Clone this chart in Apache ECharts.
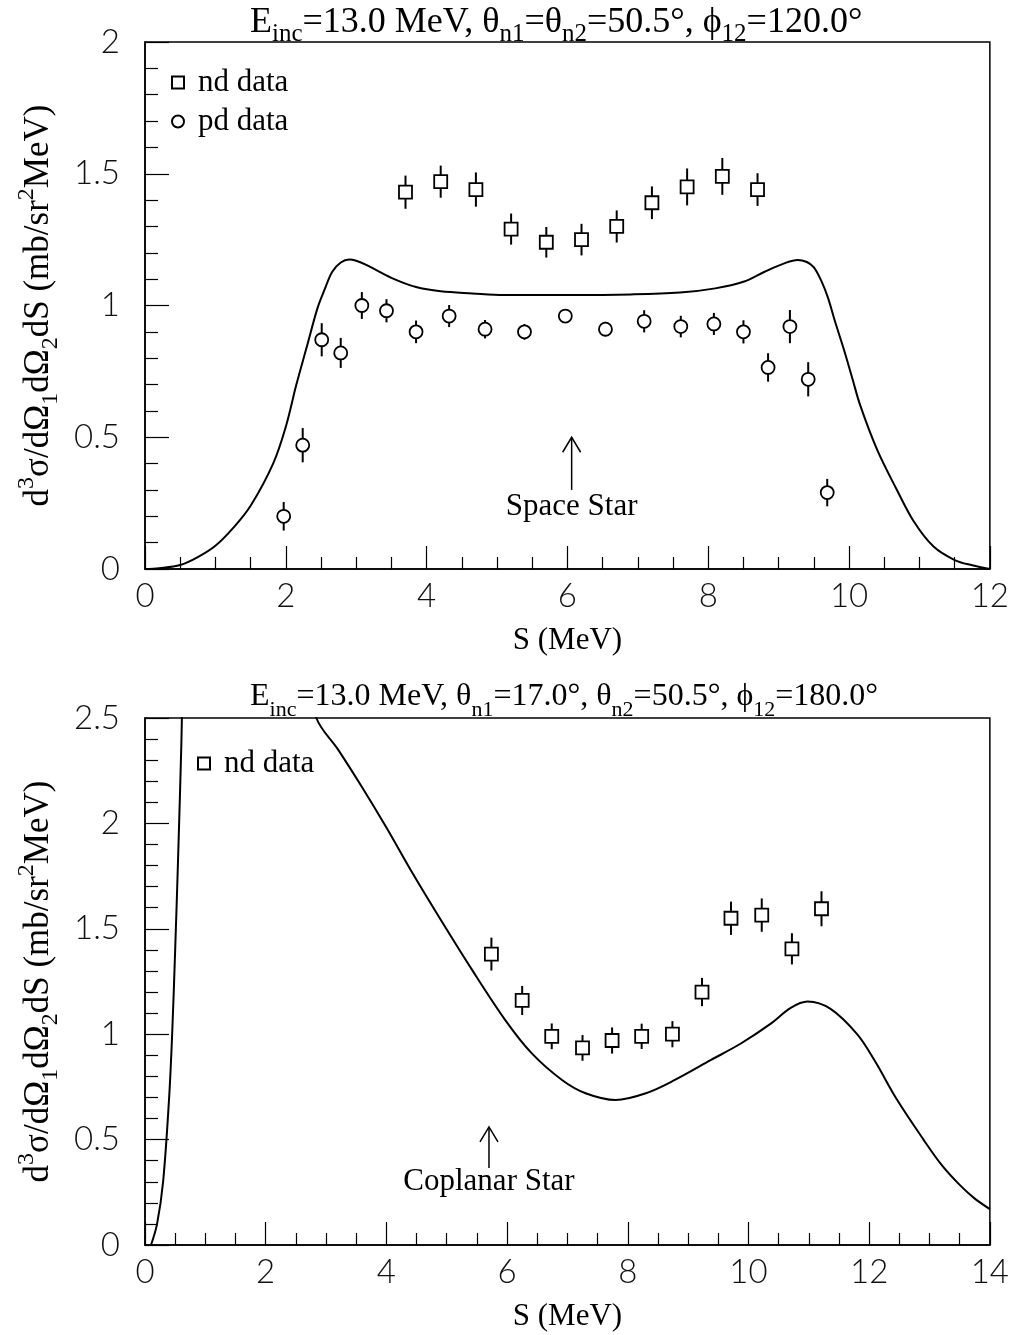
<!DOCTYPE html>
<html><head><meta charset="utf-8">
<script src="https://cdn.jsdelivr.net/npm/echarts@6/dist/echarts.min.js"></script>
<style>html,body{margin:0;padding:0;background:#fff}#c{width:1012px;height:1335px}</style>
</head><body><div id="c"></div><script>
// ---------- Top panel data ----------
const topNdX   = [3.7, 4.2, 4.7, 5.2, 5.7, 6.2, 6.7, 7.2, 7.7, 8.2, 8.7];
const topNdY   = [1.43, 1.47, 1.44, 1.29, 1.24, 1.25, 1.30, 1.39, 1.45, 1.49, 1.44];
const topNdErr = [0.063, 0.061, 0.065, 0.059, 0.058, 0.060, 0.061, 0.062, 0.070, 0.070, 0.062];

const topPdX   = [1.97, 2.24, 2.51, 2.78, 3.08, 3.43, 3.85, 4.32, 4.83, 5.39, 5.97, 6.54, 7.09, 7.61, 8.08, 8.50, 8.85, 9.16, 9.42, 9.69];
const topPdY   = [0.20, 0.47, 0.87, 0.82, 1.00, 0.98, 0.90, 0.96, 0.91, 0.90, 0.96, 0.91, 0.94, 0.92, 0.93, 0.90, 0.765, 0.92, 0.72, 0.29];
const topPdErr = [0.054, 0.065, 0.063, 0.057, 0.051, 0.044, 0.043, 0.042, 0.035, 0.030, 0.025, 0.028, 0.042, 0.041, 0.042, 0.044, 0.054, 0.063, 0.065, 0.052];

const topCurveX = [0, 0.2, 0.5, 0.75, 1.0, 1.25, 1.5, 1.82, 2.0, 2.15, 2.3, 2.45, 2.55, 2.66, 2.78, 2.9, 3.0, 3.15, 3.5, 3.85, 4.2, 4.65, 5.1, 6.0, 6.9, 7.6, 8.1, 8.5, 8.8, 9.08, 9.27, 9.4, 9.5, 9.6, 9.7, 9.8, 9.93, 10.05, 10.16, 10.4, 10.68, 10.92, 11.2, 11.5, 11.75, 12.0];
const topCurveY = [0, 0.003, 0.015, 0.045, 0.088, 0.155, 0.24, 0.40, 0.54, 0.70, 0.845, 0.99, 1.06, 1.128, 1.163, 1.175, 1.17, 1.153, 1.105, 1.07, 1.054, 1.046, 1.04, 1.04, 1.042, 1.049, 1.065, 1.09, 1.128, 1.16, 1.173, 1.165, 1.145, 1.097, 1.03, 0.94, 0.83, 0.72, 0.62, 0.452, 0.30, 0.18, 0.085, 0.034, 0.014, 0.0];

// ---------- Bottom panel data ----------
const botNdX   = [5.74, 6.25, 6.74, 7.25, 7.74, 8.23, 8.74, 9.23, 9.71, 10.22, 10.72, 11.21];
const botNdY   = [1.38, 1.16, 0.99, 0.935, 0.97, 0.99, 1.00, 1.20, 1.55, 1.565, 1.405, 1.595];
const botNdErr = [0.078, 0.069, 0.061, 0.061, 0.062, 0.060, 0.062, 0.067, 0.079, 0.079, 0.074, 0.083];

const botCurveX = [0.1, 0.2, 0.3, 0.4, 0.45, 0.5, 0.55, 0.6, 0.65, 0.8, 1.2, 2.0, 2.5, 2.84, 3.2, 3.6, 4.0, 4.4, 4.87, 5.42, 5.97, 6.41, 6.91, 7.3, 7.8, 8.3, 8.78, 9.38, 9.88, 10.37, 10.7, 10.98, 11.36, 11.8, 12.1, 12.46, 12.9, 13.2, 13.5, 13.75, 14.0];
const botCurveY = [0, 0.1, 0.3, 0.7, 1.0, 1.4, 1.85, 2.35, 2.9, 3.5, 4.0, 3.6, 2.9, 2.5, 2.35, 2.17, 1.98, 1.78, 1.557, 1.305, 1.067, 0.909, 0.783, 0.72, 0.688, 0.72, 0.783, 0.878, 0.957, 1.05, 1.125, 1.155, 1.12, 1.0, 0.87, 0.69, 0.50, 0.38, 0.285, 0.22, 0.17];

// ---------- Annotations ----------
const topStar = {x: 6.06, tip: 0.50, base: 0.30, label: 0.235, text: 'Space Star'};
const botStar = {x: 5.70, tip: 0.56, base: 0.365, label: 0.30, text: 'Coplanar Star'};

// ---------- Tick settings ----------
const topXTicks = {min: 0, max: 12, interval: 2};
const topYTicks = {min: 0, max: 2, interval: 0.5};
const botXTicks = {min: 0, max: 14, interval: 2};
const botYTicks = {min: 0, max: 2.5, interval: 0.5};

const SERIF = '"Liberation Serif","Times New Roman",serif';
const SANS = 'Lato,"Liberation Sans",sans-serif';

function zip(x, y) { return x.map((v, i) => [v, y[i]]); }
function zip3(x, y, e) { return x.map((v, i) => [v, y[i], e[i]]); }

function errSeries(x, y, e, gi) {
  return {
    type: 'custom', xAxisIndex: gi, yAxisIndex: gi, silent: true, z: 2,
    data: zip3(x, y, e),
    renderItem: function (p, api) {
      const a = api.coord([api.value(0), api.value(1) - api.value(2)]);
      const b = api.coord([api.value(0), api.value(1) + api.value(2)]);
      return {type: 'line', shape: {x1: a[0], y1: a[1], x2: b[0], y2: b[1]},
              style: {stroke: '#000', lineWidth: 2}};
    }
  };
}
function markSeries(name, x, y, sym, gi) {
  return {
    type: 'scatter', name: name, xAxisIndex: gi, yAxisIndex: gi, z: 3,
    symbol: sym, symbolSize: 13,
    itemStyle: {color: '#fff', borderColor: '#000', borderWidth: 1.8, opacity: 1},
    data: zip(x, y)
  };
}
function curveSeries(x, y, gi) {
  return {
    type: 'line', xAxisIndex: gi, yAxisIndex: gi, z: 1, clip: true,
    symbol: 'none', smooth: 0.35, silent: true,
    lineStyle: {color: '#000', width: 2},
    data: zip(x, y)
  };
}
function starSeries(s, gi) {
  return {
    type: 'custom', xAxisIndex: gi, yAxisIndex: gi, silent: true, z: 4,
    data: [[s.x, s.tip, s.base, s.label]],
    renderItem: function (p, api) {
      const t = api.coord([api.value(0), api.value(1)]);
      const b = api.coord([api.value(0), api.value(2)]);
      const l = api.coord([api.value(0), api.value(3)]);
      return {type: 'group', children: [
        {type: 'line', shape: {x1: b[0], y1: b[1], x2: t[0], y2: t[1]}, style: {stroke: '#000', lineWidth: 1.5}},
        {type: 'polyline', shape: {points: [[t[0] - 9, t[1] + 15], [t[0], t[1]], [t[0] + 9, t[1] + 15]]}, style: {stroke: '#000', lineWidth: 1.5, fill: null}},
        {type: 'text', x: l[0], y: l[1], style: {text: s.text, font: '31px ' + SERIF, fill: '#000', align: 'center', verticalAlign: 'middle'}}
      ]};
    }
  };
}

const nameRich = {
  m:   {fontFamily: SERIF, fontSize: 35, color: '#000', lineHeight: 48, verticalAlign: 'middle'},
  sup: {fontFamily: SERIF, fontSize: 24, color: '#000', lineHeight: 24, verticalAlign: 'top'},
  sub: {fontFamily: SERIF, fontSize: 24, color: '#000', lineHeight: 24, verticalAlign: 'bottom'}
};
const yName = '{m|d}{sup|3}{m|σ/dΩ}{sub|1}{m|dΩ}{sub|2}{m|dS (mb/sr}{sup|2}{m|MeV)}';

function xAxis(t, gi) {
  return {
    type: 'value', gridIndex: gi, min: t.min, max: t.max, interval: t.interval,
    name: 'S (MeV)', nameLocation: 'middle', nameGap: 56,
    nameTextStyle: {fontFamily: SERIF, fontSize: 31, color: '#000'},
    axisLine: {show: true, onZero: false, lineStyle: {color: '#000', width: 1.5}},
    axisTick: {show: true, inside: true, length: 23, lineStyle: {color: '#000', width: 1.2}},
    minorTick: {show: true, splitNumber: 4, length: 12, lineStyle: {color: '#000', width: 1.2}},
    splitLine: {show: false}, minorSplitLine: {show: false},
    axisLabel: {fontFamily: SANS, fontWeight: 300, fontSize: 33, color: '#111', margin: 11}
  };
}
function yAxis(t, gi) {
  return {
    type: 'value', gridIndex: gi, min: t.min, max: t.max, interval: t.interval,
    name: yName, nameLocation: 'middle', nameGap: 72,
    nameTextStyle: {rich: nameRich},
    axisLine: {show: true, onZero: false, lineStyle: {color: '#000', width: 1.5}},
    axisTick: {show: true, inside: true, length: 24, lineStyle: {color: '#000', width: 1.2}},
    minorTick: {show: true, splitNumber: 5, length: 13, lineStyle: {color: '#000', width: 1.2}},
    splitLine: {show: false}, minorSplitLine: {show: false},
    axisLabel: {fontFamily: SANS, fontWeight: 300, fontSize: 33, color: '#111', margin: 25}
  };
}

function titleRich(main, sub, lh) {
  return {
    m: {fontFamily: SERIF, fontWeight: 'normal', fontSize: main, color: '#000', lineHeight: lh, verticalAlign: 'top'},
    s: {fontFamily: SERIF, fontWeight: 'normal', fontSize: sub, color: '#000', lineHeight: sub, verticalAlign: 'bottom'}
  };
}

const chart = echarts.init(document.getElementById('c'), null, {renderer: 'canvas'});
chart.setOption({
  backgroundColor: '#fff',
  animation: false,
  title: [
    {left: 250, top: 5, padding: 0, text: '{m|E}{s|inc}{m|=13.0 MeV, θ}{s|n1}{m|=θ}{s|n2}{m|=50.5°, ϕ}{s|12}{m|=120.0°}',
     textStyle: {fontWeight: 'normal', rich: titleRich(36, 25, 42)}},
    {left: 250, top: 681, padding: 0, text: '{m|E}{s|inc}{m|=13.0 MeV, θ}{s|n1}{m|=17.0°, θ}{s|n2}{m|=50.5°, ϕ}{s|12}{m|=180.0°}',
     textStyle: {fontWeight: 'normal', rich: titleRich(32, 22, 40)}}
  ],
  legend: [
    {left: 166, top: 62, orient: 'vertical', itemGap: 8, itemWidth: 12, itemHeight: 12,
     textStyle: {fontFamily: SERIF, fontSize: 31, color: '#000', lineHeight: 30, padding: [0, 0, 0, 9]},
     data: [{name: 'nd data', icon: 'rect'}, {name: 'pd data', icon: 'circle'}]},
    {left: 192, top: 743, orient: 'vertical', itemWidth: 12, itemHeight: 12,
     textStyle: {fontFamily: SERIF, fontSize: 31, color: '#000', lineHeight: 30, padding: [0, 0, 0, 9]},
     data: [{name: 'nd data', icon: 'rect'}]}
  ],
  grid: [
    {left: 145, right: 19, top: 42, height: 527, show: true, borderColor: '#000', borderWidth: 1.5, backgroundColor: 'transparent'},
    {left: 145, right: 19, top: 718, height: 527, show: true, borderColor: '#000', borderWidth: 1.5, backgroundColor: 'transparent'}
  ],
  xAxis: [xAxis(topXTicks, 0), xAxis(botXTicks, 1)],
  yAxis: [yAxis(topYTicks, 0), yAxis(botYTicks, 1)],
  series: [
    curveSeries(topCurveX, topCurveY, 0),
    errSeries(topNdX, topNdY, topNdErr, 0),
    errSeries(topPdX, topPdY, topPdErr, 0),
    markSeries('nd data', topNdX, topNdY, 'rect', 0),
    markSeries('pd data', topPdX, topPdY, 'circle', 0),
    starSeries(topStar, 0),
    curveSeries(botCurveX, botCurveY, 1),
    errSeries(botNdX, botNdY, botNdErr, 1),
    markSeries('nd data', botNdX, botNdY, 'rect', 1),
    starSeries(botStar, 1)
  ]
});
</script></body></html>
